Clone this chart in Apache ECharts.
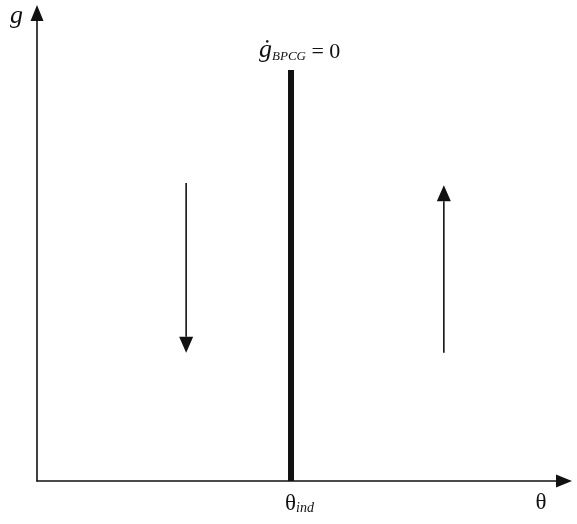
<!DOCTYPE html>
<html>
<head>
<meta charset="utf-8">
<script src="https://cdn.jsdelivr.net/npm/echarts@6/dist/echarts.min.js"></script>
<style>
  html, body { margin: 0; padding: 0; background: #fff; }
  #chart { width: 577px; height: 524px; }
</style>
</head>
<body>
<div id="chart"></div>
<script>
// chart values (axis units 0..100, no ticks shown)
const xRange = [0, 100];
const yRange = [0, 100];
const thetaInd = 48.2;          // position of the vertical locus
const boundaryTop = 87.8;       // top of the thick line
const flowX = [28.3, 77.2];     // x of the two motion arrows
const flowFrom = [63.7, 27.4];  // arrow tails
const flowTo = [27.4, 63.2];    // arrow tips
const boundaryLabel = ['ġ', 'BPCG', ' = 0'];
const thetaLabel = ['θ', 'ind'];
const axisNames = ['θ', 'g'];

const ink = '#111';
const serif = '"Liberation Serif", "DejaVu Serif", serif';

const chart = echarts.init(document.getElementById('chart'));

function axisCommon(range) {
  return {
    type: 'value',
    min: range[0],
    max: range[1],
    splitLine: { show: false },
    axisTick: { show: false },
    axisLabel: { show: false },
    axisLine: {
      show: true,
      symbol: ['none', 'triangle'],
      symbolSize: [13, 16],
      lineStyle: { color: ink, width: 1.6 }
    }
  };
}

function renderFlow(params, api) {
  const x = api.value(0);
  const p0 = api.coord([x, api.value(1)]);
  const p1 = api.coord([x, api.value(2)]);
  const dir = p1[1] > p0[1] ? 1 : -1;
  const base = p1[1] - dir * 16;
  return {
    type: 'group',
    children: [
      {
        type: 'line',
        shape: { x1: p0[0], y1: p0[1], x2: p1[0], y2: base },
        style: { stroke: ink, lineWidth: 1.6 }
      },
      {
        type: 'polygon',
        shape: { points: [[p1[0], p1[1]], [p1[0] - 7, base], [p1[0] + 7, base]] },
        style: { fill: ink }
      }
    ]
  };
}

function renderBoundary(params, api) {
  const x = api.value(0);
  const pBot = api.coord([x, api.value(1)]);
  const pTop = api.coord([x, api.value(2)]);
  return {
    type: 'group',
    children: [
      {
        type: 'line',
        shape: { x1: pBot[0], y1: pBot[1], x2: pTop[0], y2: pTop[1] },
        style: { stroke: ink, lineWidth: 6 }
      },
      {
        type: 'text',
        x: pTop[0] - 32,
        y: pTop[1] - 7,
        style: {
          text: '{g|' + boundaryLabel[0] + '}{s|' + boundaryLabel[1] + '}{e|' + boundaryLabel[2] + '}',
          align: 'left',
          verticalAlign: 'bottom',
          fill: ink,
          rich: {
            g: { fontFamily: serif, fontStyle: 'italic', fontSize: 26, verticalAlign: 'bottom', lineHeight: 28, fill: ink },
            s: { fontFamily: serif, fontStyle: 'italic', fontSize: 13, verticalAlign: 'bottom', lineHeight: 9, fill: ink },
            e: { fontFamily: serif, fontSize: 22, verticalAlign: 'bottom', lineHeight: 25, fill: ink }
          }
        }
      },
      {
        type: 'text',
        x: pBot[0] - 6,
        y: pBot[1] + 8,
        style: {
          text: '{t|' + thetaLabel[0] + '}{s|' + thetaLabel[1] + '}',
          align: 'left',
          verticalAlign: 'top',
          fill: ink,
          rich: {
            t: { fontFamily: serif, fontSize: 23, verticalAlign: 'bottom', lineHeight: 26, fill: ink },
            s: { fontFamily: serif, fontStyle: 'italic', fontSize: 14, verticalAlign: 'bottom', lineHeight: 11, fill: ink }
          }
        }
      }
    ]
  };
}

chart.setOption({
  animation: false,
  backgroundColor: '#fff',
  grid: { left: 37, right: 13, top: 13, bottom: 43 },
  xAxis: Object.assign(axisCommon(xRange), {
    name: axisNames[0],
    nameLocation: 'end',
    nameGap: -23,
    nameTextStyle: {
      fontFamily: serif, fontSize: 23, color: ink,
      align: 'center', verticalAlign: 'top', padding: [10, 0, 0, 0]
    }
  }),
  yAxis: Object.assign(axisCommon(yRange), {
    name: axisNames[1],
    nameLocation: 'end',
    nameGap: -3,
    nameTextStyle: {
      fontFamily: serif, fontStyle: 'italic', fontSize: 26, color: ink,
      align: 'right', verticalAlign: 'middle', padding: [0, 14, 0, 0]
    }
  }),
  series: [
    {
      type: 'custom',
      renderItem: renderBoundary,
      encode: { x: 0, y: [1, 2] },
      data: [[thetaInd, yRange[0], boundaryTop]]
    },
    {
      type: 'custom',
      renderItem: renderFlow,
      encode: { x: 0, y: [1, 2] },
      data: flowX.map((x, i) => [x, flowFrom[i], flowTo[i]])
    }
  ]
});
</script>
</body>
</html>
